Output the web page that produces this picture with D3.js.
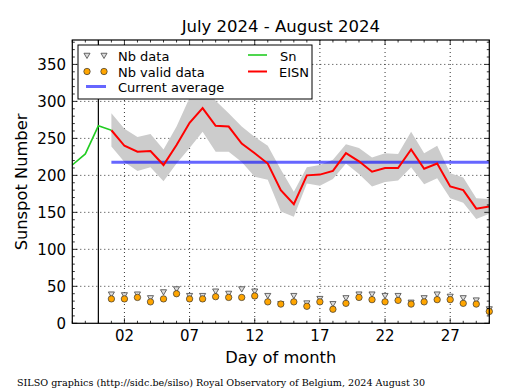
<!DOCTYPE html>
<html>
<head>
<meta charset="utf-8">
<script src="https://cdn.jsdelivr.net/npm/d3@7"></script>
<style>
  body { margin: 0; background: #fff; }
  text { font-family: "DejaVu Sans", sans-serif; fill: #000; }
</style>
</head>
<body>
<script>
// days are relative to 1 August 2024 (0 = 31 July)
var snDays = [-2, -1, 0, 1];
var snValues = [214, 229, 267, 261];

var days = [1, 2, 3, 4, 5, 6, 7, 8, 9, 10, 11, 12, 13, 14, 15, 16, 17, 18, 19, 20, 21, 22, 23, 24, 25, 26, 27, 28, 29, 30];
var eisn = [261, 240, 232, 233, 214, 241, 271, 291, 267, 266, 243, 230, 216, 180, 161, 200, 201, 206, 230, 219, 205, 210, 210, 235, 209, 216, 185, 180, 155, 158];
var eisnHigh = [284, 263, 252, 256, 235, 266, 305, 323, 301, 284, 266, 252, 240, 208, 178, 211, 214, 221, 242, 237, 224, 230, 229, 259, 230, 240, 203, 197, 169, 168];
var eisnLow = [239, 218, 206, 211, 192, 216, 237, 259, 232, 232, 218, 198, 194, 151, 144, 189, 186, 195, 216, 202, 185, 191, 193, 211, 188, 196, 169, 163, 141, 148];
var nbData = [40, 39, 40, 35, 43, 47, 38, 38, 44, 41, 47, 44, 38, 27, 38, 28, 34, 27, 35, 40, 40, 38, 38, 29, 35, 40, 37, 35, 32, 20];
var nbValid = [33, 33, 35, 29, 33, 40, 33, 33, 36, 35, 35, 37, 29, 26, 29, 23, 29, 19, 27, 35, 32, 29, 31, 26, 29, 32, 32, 27, 26, 16];
var currentAverage = 217.6;

var xTicks = [2, 7, 12, 17, 22, 27];
var yTicks = [0, 50, 100, 150, 200, 250, 300, 350];

var W = 515, H = 390;
var L = 72.3, R = 489.3, T = 40, B = 323.3;

var x = d3.scaleLinear().domain([-2, 30]).range([L, R]);
var y = d3.scaleLinear().domain([0, 383]).range([B, T]);

var svg = d3.select("body").append("svg")
  .attr("width", W)
  .attr("height", H);

var plot = svg.append("g");

// grid
plot.selectAll(".gx").data(xTicks).enter().append("line")
  .attr("x1", d => x(d)).attr("x2", d => x(d))
  .attr("y1", T).attr("y2", B)
  .attr("stroke", "#000").attr("stroke-width", 0.8)
  .attr("stroke-dasharray", "1,3");
plot.selectAll(".gy").data(yTicks.slice(1)).enter().append("line")
  .attr("x1", L).attr("x2", R)
  .attr("y1", d => y(d)).attr("y2", d => y(d))
  .attr("stroke", "#000").attr("stroke-width", 0.8)
  .attr("stroke-dasharray", "1,3");

// error band
var area = d3.area()
  .x((d, i) => x(days[i]))
  .y0((d, i) => y(eisnLow[i]))
  .y1((d, i) => y(eisnHigh[i]));
plot.append("path").datum(days)
  .attr("d", area)
  .attr("fill", "#cccccc");

// current average
plot.append("line")
  .attr("x1", x(1)).attr("x2", R)
  .attr("y1", y(currentAverage)).attr("y2", y(currentAverage))
  .attr("stroke", "#0000ff").attr("stroke-opacity", 0.6)
  .attr("stroke-width", 3);

// vertical marker at end of previous month
plot.append("line")
  .attr("x1", x(0)).attr("x2", x(0))
  .attr("y1", T).attr("y2", B)
  .attr("stroke", "#000").attr("stroke-width", 1.2);

var line = d3.line();

plot.append("path")
  .attr("d", line(snDays.map((d, i) => [x(d), y(snValues[i])])))
  .attr("fill", "none").attr("stroke", "#22cc22").attr("stroke-width", 1.6);

plot.append("path")
  .attr("d", line(days.map((d, i) => [x(d), y(eisn[i])])))
  .attr("fill", "none").attr("stroke", "#ff0000").attr("stroke-width", 2);

// markers
var tri = d3.symbol().type(d3.symbolTriangle).size(16);
function drawTri(g, cx, cy) {
  g.append("path")
    .attr("d", tri())
    .attr("transform", "translate(" + cx + "," + cy + ") rotate(180)")
    .attr("fill", "#dddddd").attr("stroke", "#444").attr("stroke-width", 0.8);
}
function drawDot(g, cx, cy) {
  g.append("circle")
    .attr("cx", cx).attr("cy", cy).attr("r", 3.2)
    .attr("fill", "#ffa500").attr("stroke", "#333").attr("stroke-width", 0.7);
}
days.forEach((d, i) => drawTri(plot, x(d), y(nbData[i])));
days.forEach((d, i) => drawDot(plot, x(d), y(nbValid[i])));

// frame
svg.append("rect")
  .attr("x", L).attr("y", T).attr("width", R - L).attr("height", B - T)
  .attr("fill", "none").attr("stroke", "#000").attr("stroke-width", 1.2);

// ticks, inward on all four sides
var ticks = svg.append("g").attr("stroke", "#000").attr("stroke-width", 0.8);
d3.range(-2, 31).forEach(function(d) {
  var len = xTicks.indexOf(d) >= 0 ? 5 : 2.5;
  ticks.append("line").attr("x1", x(d)).attr("x2", x(d)).attr("y1", B).attr("y2", B - len);
  ticks.append("line").attr("x1", x(d)).attr("x2", x(d)).attr("y1", T).attr("y2", T + len);
});
d3.range(0, 381, 10).forEach(function(d) {
  var len = d % 50 === 0 ? 5 : 2.5;
  ticks.append("line").attr("x1", L).attr("x2", L + len).attr("y1", y(d)).attr("y2", y(d));
  ticks.append("line").attr("x1", R).attr("x2", R - len).attr("y1", y(d)).attr("y2", y(d));
});

// tick labels
svg.selectAll(".xl").data(xTicks).enter().append("text")
  .attr("x", d => x(d)).attr("y", 341)
  .attr("text-anchor", "middle").style("font-size", "15px")
  .text(d => d3.format("02d")(d));
svg.selectAll(".yl").data(yTicks).enter().append("text")
  .attr("x", 66).attr("y", d => y(d) + 5.5)
  .attr("text-anchor", "end").style("font-size", "15px")
  .text(d => d);

// titles
svg.append("text").attr("x", (L + R) / 2).attr("y", 32)
  .attr("text-anchor", "middle").style("font-size", "16.5px")
  .text("July 2024 - August 2024");
svg.append("text").attr("x", (L + R) / 2).attr("y", 363)
  .attr("text-anchor", "middle").style("font-size", "16.3px")
  .text("Day of month");
svg.append("text")
  .attr("transform", "translate(26.5," + 182 + ") rotate(-90)")
  .attr("text-anchor", "middle").style("font-size", "16.3px")
  .text("Sunspot Number");
svg.append("text").attr("x", 17).attr("y", 386)
  .style("font-family", "'DejaVu Serif', serif").style("font-size", "9.6px")
  .text("SILSO graphics (http://sidc.be/silso) Royal Observatory of Belgium, 2024 August 30");

// legend
var lg = svg.append("g");
lg.append("rect")
  .attr("x", 78).attr("y", 45).attr("width", 234).attr("height", 54)
  .attr("fill", "#fff").attr("stroke", "#000").attr("stroke-width", 1);
drawTri(lg, 87, 55); drawTri(lg, 104, 55);
drawDot(lg, 87, 71.5); drawDot(lg, 104, 71.5);
lg.append("line").attr("x1", 86).attr("x2", 106).attr("y1", 86.5).attr("y2", 86.5)
  .attr("stroke", "#0000ff").attr("stroke-opacity", 0.6).attr("stroke-width", 3);
lg.append("line").attr("x1", 248).attr("x2", 267).attr("y1", 55).attr("y2", 55)
  .attr("stroke", "#22cc22").attr("stroke-width", 1.6);
lg.append("line").attr("x1", 248).attr("x2", 267).attr("y1", 71.5).attr("y2", 71.5)
  .attr("stroke", "#ff0000").attr("stroke-width", 2);
var legendText = [["Nb data", 118, 60.5], ["Nb valid data", 118, 77], ["Current average", 118, 92], ["Sn", 280, 60.5], ["EISN", 279, 77]];
legendText.forEach(function(t) {
  lg.append("text").attr("x", t[1]).attr("y", t[2]).style("font-size", "13px").text(t[0]);
});
</script>
</body>
</html>
